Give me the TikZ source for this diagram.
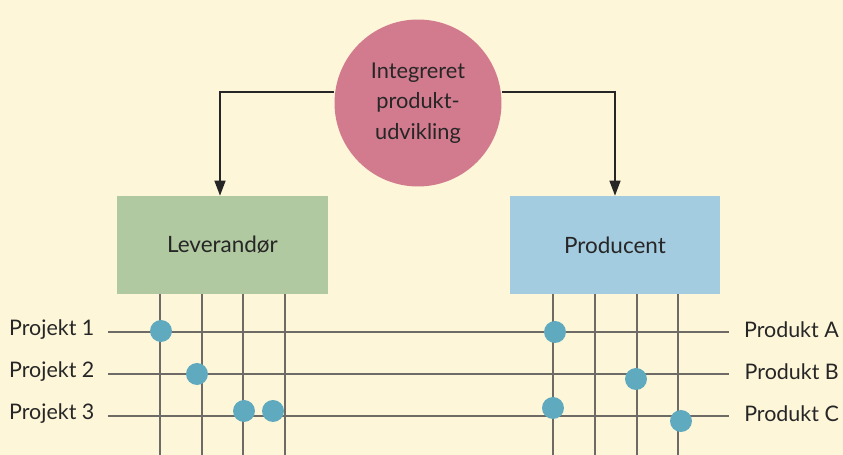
\documentclass[tikz,border=0pt]{standalone}
\usepackage{fontspec}
\setmainfont{Lato}
\usetikzlibrary{arrows.meta}
\definecolor{bgcol}{HTML}{FDF6D9}
\definecolor{ipucol}{HTML}{D27B8F}
\definecolor{levcol}{HTML}{B1C9A0}
\definecolor{prodcol}{HTML}{A4CCE0}
\definecolor{dotcol}{HTML}{5FAABF}
\definecolor{linecol}{HTML}{6E6B66}
\begin{document}
\begin{tikzpicture}[x=0.02cm,y=-0.02cm,
  grid/.style={linecol, line width=1pt},
  dot/.style={circle, fill=dotcol, inner sep=0pt, minimum size=0.44cm},
  lbl/.style={font=\fontsize{12.2}{15.5}\selectfont, text=black!85},
  box/.style={minimum width=4.22cm, minimum height=1.96cm, font=\fontsize{12.8}{15}\selectfont, text=black!85}]
% background and size
\fill[bgcol] (0,0) rectangle (843,455);
\useasboundingbox (0,0) rectangle (843,455);

% top circle and the two partners
\node[circle, fill=ipucol, minimum size=3.34cm, align=center, lbl, font=\fontsize{12.4}{17.5}\selectfont] (ipu) at (418,103) {Integreret\\produkt-\\udvikling};
\node[box, fill=levcol] (lev) at (222.5,245) {Leverand\o r};
\node[box, fill=prodcol] (prod) at (615,245) {Producent};

\draw[black!85, line width=0.9pt, -{Triangle[length=0.3cm,width=0.22cm]}] (ipu.west |- 0,92) -| (lev.north -| 220,0);
\draw[black!85, line width=0.9pt, -{Triangle[length=0.3cm,width=0.22cm]}] (ipu.east |- 0,92) -| (prod.north -| 615,0);

% rows
\node[lbl, anchor=west] (p1) at (3,330) {Projekt 1};
\node[lbl, anchor=west] (p2) at (3,372) {Projekt 2};
\node[lbl, anchor=west] (p3) at (3,414) {Projekt 3};
\node[lbl, anchor=east] (pa) at (845,330) {Produkt A};
\node[lbl, anchor=east] (pb) at (845,372) {Produkt B};
\node[lbl, anchor=east] (pc) at (845,414) {Produkt C};
\foreach \r/\y in {1/332, 2/374, 3/416}
  \draw[grid] (108,\y) -- (729,\y);

% columns under the boxes
\foreach \x in {160, 202, 243, 285}
  \draw[grid] (lev.south -| \x,0) -- (\x,455);
\foreach \x in {553, 595, 637, 678}
  \draw[grid] (prod.south -| \x,0) -- (\x,455);

% links
\node[dot] (d1) at (161,331) {};
\node[dot] (d2) at (197,374) {};
\node[dot] (d3) at (244,411) {};
\node[dot] (d4) at (273,411) {};
\node[dot] (d5) at (555,332) {};
\node[dot] (d6) at (636,379) {};
\node[dot] (d7) at (553,408) {};
\node[dot] (d8) at (681,421) {};
\end{tikzpicture}
\end{document}
